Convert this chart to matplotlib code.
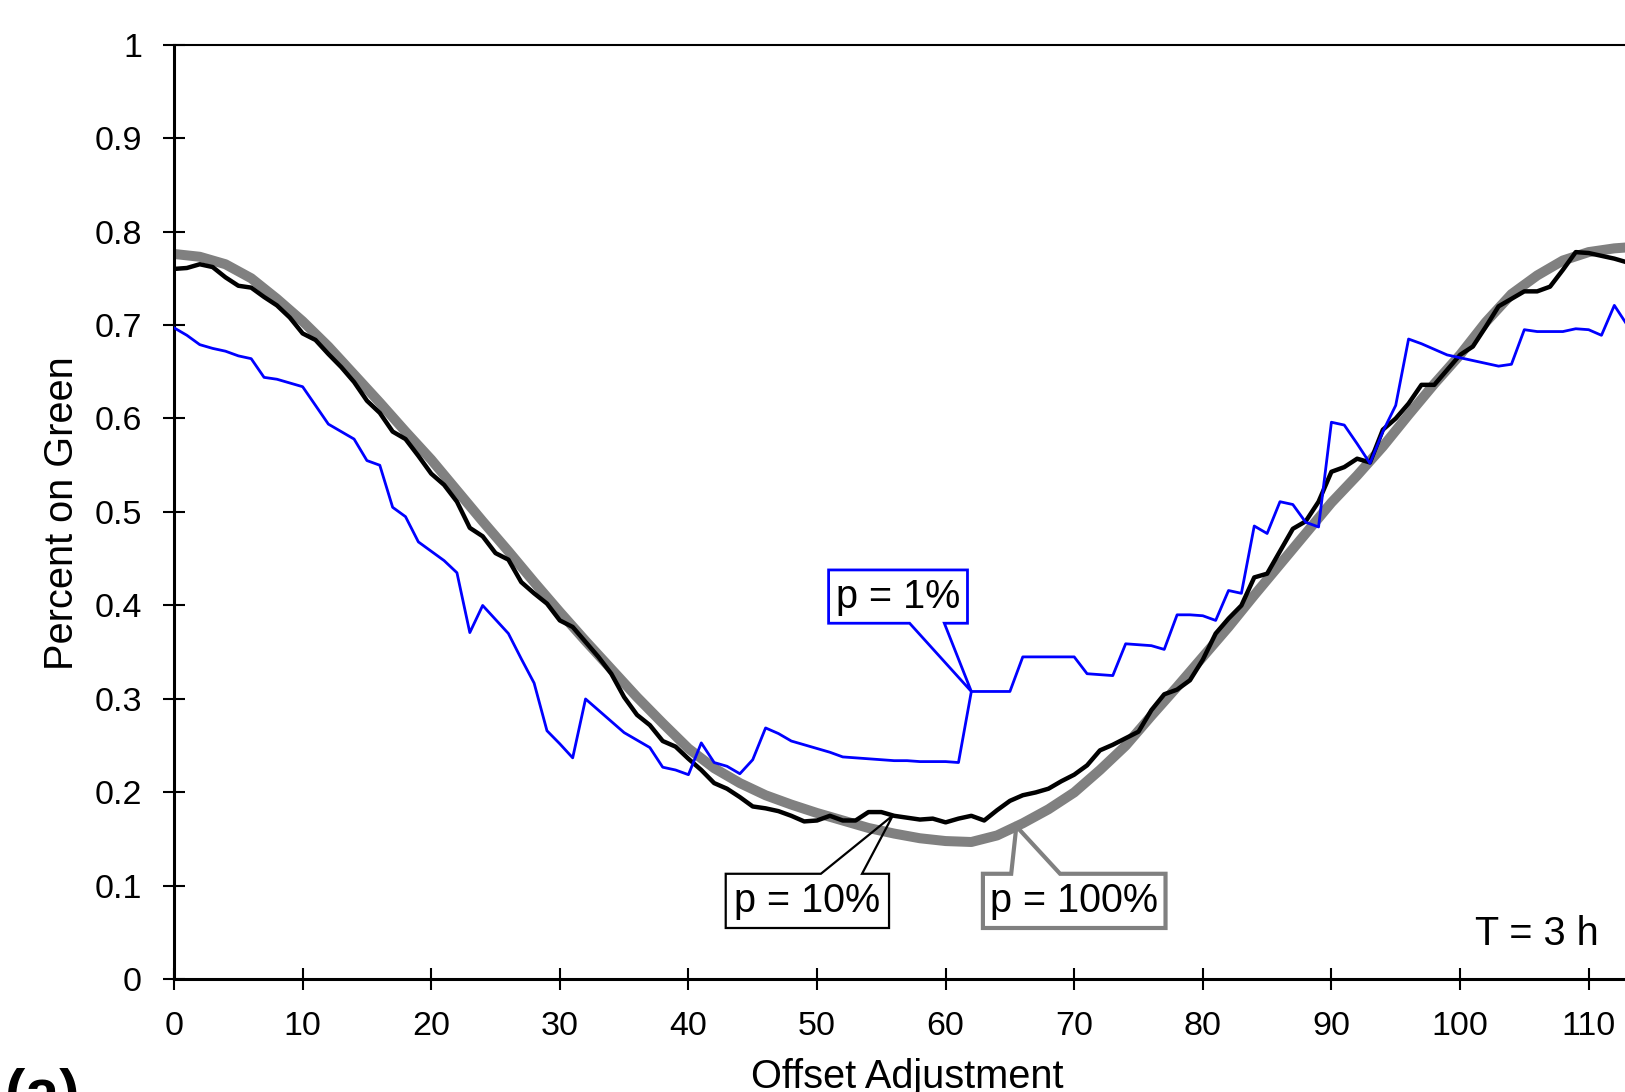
import numpy as np
import matplotlib.pyplot as plt
from matplotlib.patches import Polygon

plt.rcParams['font.family'] = ['Liberation Sans', 'DejaVu Sans']

# offset adjustment in integer steps (p = 1% and p = 10% runs)
offset = np.arange(0, 114)

p1 = [0.697, 0.689, 0.679, 0.675, 0.672, 0.667, 0.664, 0.644, 0.642, 0.638,
      0.634, 0.614, 0.594, 0.586, 0.578, 0.555, 0.550, 0.505, 0.495, 0.468,
      0.458, 0.448, 0.435, 0.371, 0.400, 0.385, 0.370, 0.343, 0.317, 0.266,
      0.252, 0.237, 0.300, 0.288, 0.276, 0.264, 0.256, 0.248, 0.227, 0.224,
      0.219, 0.253, 0.232, 0.228, 0.220, 0.235, 0.269, 0.263, 0.255, 0.251,
      0.247, 0.243, 0.238, 0.237, 0.236, 0.235, 0.234, 0.234, 0.233, 0.233,
      0.233, 0.232, 0.308, 0.308, 0.308, 0.308, 0.345, 0.345, 0.345, 0.345,
      0.345, 0.327, 0.326, 0.325, 0.359, 0.358, 0.357, 0.353, 0.390, 0.390,
      0.389, 0.384, 0.416, 0.413, 0.485, 0.477, 0.511, 0.508, 0.489, 0.484,
      0.596, 0.593, 0.573, 0.552, 0.586, 0.614, 0.685, 0.680, 0.674, 0.668,
      0.665, 0.662, 0.659, 0.656, 0.658, 0.695, 0.693, 0.693, 0.693, 0.696,
      0.695, 0.689, 0.721, 0.700]

p10 = [0.760, 0.761, 0.765, 0.762, 0.751, 0.742, 0.740, 0.730, 0.721, 0.708,
       0.691, 0.684, 0.669, 0.655, 0.639, 0.619, 0.606, 0.586, 0.578, 0.560,
       0.541, 0.529, 0.511, 0.483, 0.474, 0.456, 0.449, 0.425, 0.413, 0.402,
       0.384, 0.377, 0.361, 0.345, 0.327, 0.302, 0.283, 0.272, 0.255, 0.249,
       0.236, 0.224, 0.210, 0.204, 0.195, 0.185, 0.183, 0.180, 0.175, 0.169,
       0.170, 0.175, 0.170, 0.170, 0.179, 0.179, 0.175, 0.173, 0.171, 0.172,
       0.168, 0.172, 0.175, 0.170, 0.181, 0.191, 0.197, 0.200, 0.204, 0.212,
       0.219, 0.229, 0.245, 0.251, 0.258, 0.265, 0.288, 0.305, 0.310, 0.320,
       0.342, 0.370, 0.386, 0.400, 0.430, 0.434, 0.458, 0.482, 0.490, 0.511,
       0.543, 0.548, 0.557, 0.553, 0.588, 0.600, 0.616, 0.636, 0.636, 0.652,
       0.668, 0.677, 0.698, 0.720, 0.728, 0.736, 0.736, 0.741, 0.759, 0.778,
       0.777, 0.774, 0.771, 0.767]

# p = 100% (smooth curve, read every 2 steps)
offset_100 = list(range(0, 114, 2)) + [113]
p100 = [0.776, 0.773, 0.765, 0.750, 0.728, 0.704, 0.677, 0.647, 0.617, 0.586,
        0.556, 0.523, 0.490, 0.458, 0.425, 0.393, 0.362, 0.332, 0.302, 0.274,
        0.247, 0.226, 0.210, 0.197, 0.187, 0.178, 0.170, 0.162, 0.156, 0.151,
        0.148, 0.147, 0.154, 0.167, 0.182, 0.200, 0.224, 0.250, 0.282, 0.313,
        0.345, 0.377, 0.411, 0.444, 0.477, 0.510, 0.539, 0.570, 0.604, 0.637,
        0.668, 0.703, 0.733, 0.753, 0.769, 0.778, 0.782, 0.783]

yticks = np.arange(0, 1.01, 0.1)
xticks = np.arange(0, 111, 10)

fig = plt.figure(figsize=(16.25, 10.92), dpi=100)
ax = fig.add_axes([0.1071, 0.1031, 0.8929, 0.8561])

ax.plot(offset_100, p100, color='#808080', lw=7.2, solid_joinstyle='round', zorder=2)
ax.plot(offset, p10, color='black', lw=3.2, zorder=3)
ax.plot(offset, p1, color='#0000ff', lw=2.0, zorder=4)

ax.set_xlim(0, 112.83)
ax.set_ylim(0, 1)
ax.set_xticks(xticks)
ax.set_yticks(yticks)
ax.set_yticklabels([f"{v:g}" for v in np.round(yticks, 1)])
ax.tick_params(direction='inout', length=16, width=1.5, labelsize=24.5, pad=14.5)
ax.tick_params(axis='y', pad=15)

for s in ['left', 'bottom']:
    ax.spines[s].set_linewidth(2.2)
ax.spines['top'].set_linewidth(1.5)
ax.spines['right'].set_visible(False)


def callout(box, wedge, tip, color, lw, text):
    # rectangle with a wedge pointing from the bottom/top edge
    x0, x1, y0, y1 = box
    wa, wb, side = wedge
    if side == 'bottom':
        verts = [(x0, y1), (x1, y1), (x1, y0), (wb, y0), tip, (wa, y0), (x0, y0)]
    else:
        verts = [(x0, y0), (x1, y0), (x1, y1), (wb, y1), tip, (wa, y1), (x0, y1)]
    ax.add_patch(Polygon(verts, closed=True, facecolor='none', edgecolor=color,
                         lw=lw, joinstyle='miter', zorder=5))
    ax.add_patch(Polygon([(x0, y0), (x1, y0), (x1, y1), (x0, y1)], closed=True,
                         facecolor='white', edgecolor='none', zorder=4.5))
    ax.text((x0 + x1) / 2, (y0 + y1) / 2, text, fontsize=28.5,
            ha='center', va='center', zorder=6)


callout((50.9, 61.7, 0.381, 0.438), (57.2, 59.9, 'bottom'),
        (62, p1[62]), '#0000ff', 2.0, 'p = 1%')
callout((42.9, 55.6, 0.055, 0.113), (50.3, 53.5, 'top'),
        (55.9, np.interp(55.9, offset, p10)), 'black', 1.6, 'p = 10%')
callout((62.9, 77.1, 0.055, 0.113), (65.1, 68.9, 'top'),
        (65.5, np.interp(65.5, offset_100, p100)), '#808080', 3.0, 'p = 100%')

fig.text(1475 / 1625, 1 - 945 / 1092, 'T = 3 h', fontsize=28.5,
         ha='left', va='baseline')
fig.text(0.558, 0.004, 'Offset Adjustment', fontsize=28.6,
         ha='center', va='baseline')
fig.text(0.038, 0.530, 'Percent on Green', fontsize=28.6, rotation=90,
         ha='center', va='center')
fig.text(0.0032, -0.018, '(a)', fontsize=44, fontweight='bold',
         ha='left', va='baseline')

fig.savefig('out.png', dpi=100)
